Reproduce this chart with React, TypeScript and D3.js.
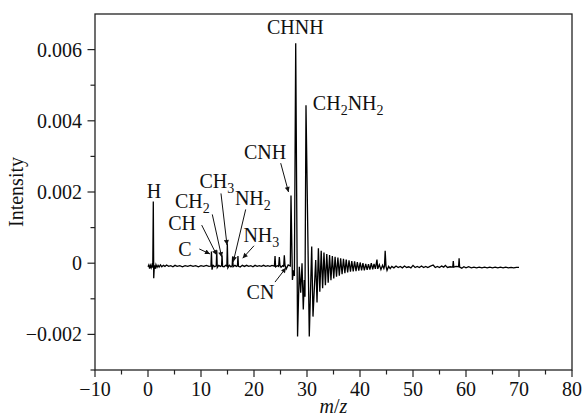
import React from "react";
import * as d3 from "d3";

// m/z vs intensity
const spectrum: [number, number][] = [
  [0.0, -0.0001], [0.15, -0.00005], [0.3, -0.00015], [0.45, -0.00006], [0.6, -0.00013], [0.75, -0.00005], [0.9, -0.00012],
  [1.0, 0.00173], [1.08, -0.00042], [1.2, -0.00006], [1.35, -0.00016], [1.5, -0.00004], [1.7, -0.00012], [1.9, -0.00006],
  [2.1, -0.00011], [2.35, -0.00005], [2.6, -0.0001], [2.9, -0.00006], [3.2, -0.00009], [3.5, -0.00005], [3.9, -0.00009],
  [4.3, -0.00007], [4.7, -0.0001], [5.1, -0.00006], [5.5, -0.00009], [6.0, -0.00007], [6.5, -0.0001], [7.0, -0.00007],
  [7.5, -0.00009], [8.0, -0.00006], [8.5, -0.00009], [9.0, -0.00007], [9.5, -0.0001], [10.0, -0.00007], [10.5, -0.00009],
  [11.0, -0.00006], [11.5, -0.00009], [11.88, -0.00008],
  [11.97, 0.00033], [12.08, -0.00018], [12.3, -0.00006], [12.6, -0.0001], [12.88, -0.00007],
  [12.97, 0.00036], [13.07, -0.00012], [13.35, -0.00006], [13.65, -0.00009], [13.88, -0.00007],
  [13.97, 0.00022], [14.07, -0.00009], [14.35, -0.0001], [14.65, -0.00006], [14.88, -0.00008],
  [14.97, 0.00055], [15.07, -0.00013], [15.35, -0.00006], [15.65, -0.0001], [15.88, -0.00007],
  [15.97, 0.00018], [16.07, -0.0001], [16.4, -0.00006], [16.7, -0.00009], [16.88, -0.00007],
  [16.97, 0.0002], [17.07, -0.00009], [17.4, -0.00011], [17.8, -0.00006], [18.2, -0.00009], [18.6, -0.00006],
  [19.0, -0.00009], [19.4, -0.00007], [19.8, -0.0001], [20.2, -0.00006], [20.6, -0.00009], [21.0, -0.00007],
  [21.4, -0.00009], [21.8, -0.00006], [22.2, -0.00009], [22.6, -0.00007], [23.0, -0.00009], [23.4, -0.00006], [23.85, -0.00008],
  [23.97, 0.0002], [24.08, -0.0001], [24.4, -0.00007], [24.65, -0.00009],
  [24.78, 0.00017], [24.9, -0.00006], [25.1, -0.00011], [25.4, -0.00007], [25.6, -0.00009],
  [25.72, 0.00022], [25.85, -0.00006], [26.1, -0.00016], [26.45, -0.00005], [26.85, -0.00008],
  [26.98, 0.0019], [27.25, -0.00047], [27.45, -0.0002], [27.62, -0.00036],
  [27.87, 0.00618], [28.22, -0.00206], [28.55, -0.0001], [28.81, -0.00083], [29.06, 0.0], [29.3, -0.0013],
  [29.49, -0.00047], [29.62, -0.00094],
  [29.81, 0.00444], [30.43, -0.00206], [30.89, 0.00047], [31.13, -0.0015], [31.64, 0.00009], [31.89, -0.0011],
  [32.15, 0.00042], [32.42, -0.0008], [32.68, 0.00035], [32.95, -0.0007], [33.2, 0.0003], [33.47, -0.00062],
  [33.73, 0.00026], [34.0, -0.00055], [34.26, 0.00023], [34.52, -0.00048], [34.78, 0.0002], [35.05, -0.00043],
  [35.3, 0.00018], [35.57, -0.00038], [35.83, 0.00016], [36.1, -0.00035], [36.35, 0.00014], [36.62, -0.00031],
  [36.88, 0.00012], [37.15, -0.00028], [37.4, 0.0001], [37.67, -0.00026], [37.93, 0.00008], [38.2, -0.00024],
  [38.45, 0.00006], [38.72, -0.00023], [38.98, 0.00005], [39.25, -0.00022], [39.5, 0.00003], [39.77, -0.00021],
  [40.03, 0.00002], [40.3, -0.0002], [40.55, 0.0], [40.82, -0.0002], [41.08, -0.00002], [41.35, -0.00019],
  [41.6, -0.00003], [41.87, -0.00018], [42.13, 0.0], [42.4, -0.00017], [42.65, -0.00002], [42.9, -0.00016],
  [43.2, 0.0001], [43.35, -0.00016], [43.65, -0.00004], [43.95, -0.00018], [44.25, -0.00006], [44.5, -0.00015],
  [44.62, -0.00008], [44.75, 0.00035], [44.9, -0.00008], [45.1, -0.0002], [45.4, -0.00009], [45.7, -0.00015],
  [46.0, -0.00009], [46.4, -0.00013], [46.8, -0.00008], [47.2, -0.00012], [47.6, -0.00009], [48.0, -0.00013],
  [48.4, -0.00008], [48.8, -0.00012], [49.2, -0.0001], [49.6, -0.00013], [50.0, -0.00006], [50.4, -0.00012],
  [50.8, -0.00009], [51.2, -0.00012], [51.6, -0.00008], [52.0, -0.00012], [52.4, -0.00009], [52.8, -0.00012],
  [53.2, -0.00009], [53.8, -0.00005], [54.2, -0.00012], [54.6, -0.00009], [55.0, -0.00012], [55.4, -0.00008],
  [55.8, -0.00011], [56.1, -0.00006], [56.5, -0.00012], [57.0, -0.0001], [57.5, -0.00011], [57.6, 0.00006],
  [57.7, -0.00011], [58.1, -0.00009], [58.6, -0.0001], [58.7, 0.00014], [58.8, -0.00011], [59.2, -0.00014],
  [59.6, -0.0001], [60.0, -0.00013], [60.5, -0.0001], [61.0, -0.00013], [61.5, -0.00011], [62.0, -0.00013],
  [62.5, -0.00011], [63.0, -0.00013], [63.5, -0.00011], [64.0, -0.00013], [64.5, -0.00011], [65.0, -0.00013],
  [65.5, -0.00011], [66.0, -0.00013], [66.5, -0.00011], [67.0, -0.00013], [67.5, -0.00011], [68.0, -0.00013],
  [68.5, -0.00012], [69.0, -0.00013], [69.5, -0.00012], [70.0, -0.00012],
];

const xMajorTicks = [-10, 0, 10, 20, 30, 40, 50, 60, 70, 80];
const xMinorTicks = [-5, 5, 15, 25, 35, 45, 55, 65, 75];
const yMajorTicks = [-0.002, 0, 0.002, 0.004, 0.006];
const yMinorTicks = [-0.003, -0.001, 0.001, 0.003, 0.005];
const yTickLabels = ["\u22120.002", "0", "0.002", "0.004", "0.006"];

// label parts: [text, isSubscript]
type Part = [string, boolean];
const labelParts: Part[][] = [
  [["H", false]],
  [["CHNH", false]],
  [["CH", false], ["2", true], ["NH", false], ["2", true]],
  [["CNH", false]],
  [["CH", false], ["3", true]],
  [["CH", false], ["2", true]],
  [["CH", false]],
  [["C", false]],
  [["NH", false], ["2", true]],
  [["NH", false], ["3", true]],
  [["CN", false]],
];
// label anchor in data units [m/z, intensity] and text-anchor
const labelAnchors: [number, number, string][] = [
  [1.13, 0.00183, "middle"],
  [27.8, 0.00643, "middle"],
  [31.1, 0.0043, "start"],
  [22.1, 0.00292, "middle"],
  [9.7, 0.00211, "start"],
  [5.1, 0.00155, "start"],
  [3.8, 0.00093, "start"],
  [5.7, 0.0002, "start"],
  [16.4, 0.00163, "start"],
  [18.0, 0.0006, "start"],
  [18.6, -0.00101, "start"],
];
// arrows: from [m/z, intensity] to [m/z, intensity]
const arrows: [number, number, number, number][] = [
  [25.04, 0.00281, 26.51, 0.002],
  [13.77, 0.00196, 14.91, 0.00051],
  [12.13, 0.00137, 13.91, 0.00017],
  [10.13, 0.00107, 12.96, 0.00023],
  [9.68, 0.0004, 11.7, 0.00026],
  [18.43, 0.00151, 16.09, 0.00004],
  [20.0, 0.00049, 17.87, 0.00014],
  [23.96, -0.00053, 26.04, -0.00013],
];

const W = 583;
const H = 419;
const M = { left: 95, right: 11, top: 14, bottom: 49 };
const FONT = "'Liberation Serif', 'DejaVu Serif', serif";
const FS = 20;

export default function App() {
  const x = d3.scaleLinear().domain([-10, 80]).range([M.left, W - M.right]);
  const y = d3.scaleLinear().domain([-0.003, 0.007]).range([H - M.bottom, M.top]);
  const line = d3
    .line<[number, number]>()
    .x((d) => x(d[0]))
    .y((d) => y(d[1]));
  const x0 = M.left;
  const x1 = W - M.right;
  const y0 = H - M.bottom;
  const y1 = M.top;
  const axisColor = "#222";
  const ts = { fontFamily: FONT, fontSize: FS };

  return (
    <svg
      width={W}
      height={H}
      style={{ position: "absolute", left: 0, top: 0, background: "#fff", fontFamily: FONT }}
    >
      <defs>
        <marker
          id="ah"
          viewBox="0 0 10 10"
          refX="10"
          refY="5"
          markerWidth="7"
          markerHeight="5"
          markerUnits="userSpaceOnUse"
          orient="auto"
        >
          <path d="M0,0 L10,5 L0,10 z" fill="#111" />
        </marker>
      </defs>
      <rect x={0} y={0} width={W} height={H} fill="#fff" />

      {/* spectrum */}
      <path d={line(spectrum) || ""} fill="none" stroke="#000" strokeWidth={1.3} strokeLinejoin="miter" />

      {/* frame */}
      <rect x={x0} y={y1} width={x1 - x0} height={y0 - y1} fill="none" stroke={axisColor} strokeWidth={1.3} />

      {/* x ticks */}
      {xMajorTicks.map((t) => (
        <g key={"xM" + t}>
          <line x1={x(t)} x2={x(t)} y1={y0} y2={y0 + 7} stroke={axisColor} strokeWidth={1.2} />
          <text x={x(t)} y={396} textAnchor="middle" style={ts} fill="#111">
            {t < 0 ? "\u2212" + Math.abs(t) : String(t)}
          </text>
        </g>
      ))}
      {xMinorTicks.map((t) => (
        <line key={"xm" + t} x1={x(t)} x2={x(t)} y1={y0} y2={y0 + 4.5} stroke={axisColor} strokeWidth={1.2} />
      ))}

      {/* y ticks */}
      {yMajorTicks.map((t, i) => (
        <g key={"yM" + t}>
          <line x1={x0 - 7.5} x2={x0} y1={y(t)} y2={y(t)} stroke={axisColor} strokeWidth={1.2} />
          <text x={82} y={y(t)} dy="0.35em" textAnchor="end" style={ts} fill="#111">
            {yTickLabels[i]}
          </text>
        </g>
      ))}
      {yMinorTicks.map((t) => (
        <line key={"ym" + t} x1={x0 - 4.5} x2={x0} y1={y(t)} y2={y(t)} stroke={axisColor} strokeWidth={1.2} />
      ))}

      {/* axis titles */}
      <text
        transform={`translate(23,${(y0 + y1) / 2}) rotate(-90)`}
        textAnchor="middle"
        style={ts}
        fill="#111"
      >
        Intensity
      </text>
      <text x={x(35)} y={413} textAnchor="middle" style={ts} fill="#111">
        <tspan fontStyle="italic">m</tspan>
        <tspan>/</tspan>
        <tspan fontStyle="italic">z</tspan>
      </text>

      {/* arrows */}
      {arrows.map((a, i) => (
        <line
          key={"ar" + i}
          x1={x(a[0])}
          y1={y(a[1])}
          x2={x(a[2])}
          y2={y(a[3])}
          stroke="#111"
          strokeWidth={1}
          markerEnd="url(#ah)"
        />
      ))}

      {/* labels */}
      {labelParts.map((parts, i) => {
        const [lx, ly, anchor] = labelAnchors[i];
        let shifted = false;
        return (
          <text key={"lb" + i} x={x(lx)} y={y(ly)} textAnchor={anchor} style={ts} fill="#111">
            {parts.map(([txt, sub], j) => {
              let dy = 0;
              if (sub && !shifted) {
                dy = 5;
                shifted = true;
              } else if (!sub && shifted) {
                dy = -5;
                shifted = false;
              }
              return (
                <tspan key={j} dy={dy} style={{ fontSize: sub ? FS * 0.7 : FS }}>
                  {txt}
                </tspan>
              );
            })}
          </text>
        );
      })}
    </svg>
  );
}
